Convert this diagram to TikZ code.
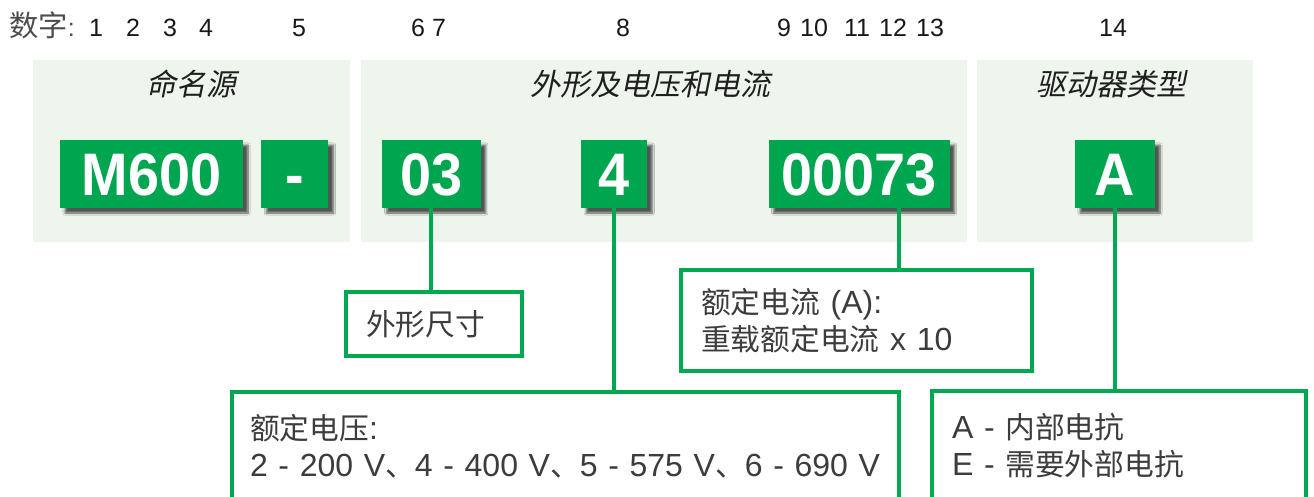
\documentclass[tikz,border=0pt]{standalone}
\usepackage{fontspec}
\setmainfont{Liberation Sans}
\newfontfamily\cjk[Scale=0.93]{Noto Sans CJK SC}
\newfontfamily\cjkit[FakeSlant=0.2]{Noto Sans CJK SC}
\newfontfamily\codefont[FakeStretch=0.93]{Liberation Sans}
\usepackage{tikz}
\usetikzlibrary{positioning,shadows.blur}
\definecolor{codegreen}{HTML}{00A54F}
\definecolor{linegreen}{HTML}{00A84F}
\definecolor{panelbg}{HTML}{EDF5EC}
\definecolor{textgray}{HTML}{3C3C3C}

\begin{document}
\begin{tikzpicture}[x=1pt,y=-1pt,
    panel/.style={fill=panelbg,inner sep=0pt},
    title/.style={font=\cjkit\fontsize{30}{36}\selectfont,text=black!88},
    code/.style={fill=codegreen,text=white,inner sep=0pt,minimum height=68pt,
      text height=43pt,text depth=0pt,
      font=\codefont\bfseries\fontsize{60}{60}\selectfont,
      blur shadow={shadow xshift=5pt,shadow yshift=-5pt,shadow blur steps=6,shadow opacity=65}},
    digit/.style={anchor=base,inner sep=0pt,text=black!90,font=\fontsize{25}{30}\selectfont},
    callout/.style={draw=linegreen,line width=4pt,fill=white,inner xsep=20pt,inner ysep=0pt,
      align=left,text=textgray,font=\fontsize{32}{37}\selectfont},
    link/.style={draw=linegreen,line width=4pt}]
  \useasboundingbox (0,0) rectangle (1314,496);

  % position numbers
  \node[anchor=base west,inner sep=0pt,text=black!70,font=\fontsize{25}{30}\selectfont]
    (numlabel) at (9,36) {{\cjk\fontsize{31.5}{32}\selectfont 数字}:};
  \foreach \n/\x in {1/96,2/133,3/170,4/206,5/299,6/418,7/439,8/623,
                     9/784,10/814,11/857,12/893,13/930,14/1113}
    \node[digit] (d\n) at (\x,36) {\n};

  % panels
  \node[panel,minimum width=317pt,minimum height=182pt] (p_name)  at (191.5,151) {};
  \node[panel,minimum width=606pt,minimum height=182pt] (p_rate)  at (664,151)   {};
  \node[panel,minimum width=276pt,minimum height=182pt] (p_drive) at (1115,151)  {};
  \node[title] (t_name)  at (191.5,84) {命名源};
  \node[title] (t_rate)  at (650,84)   {外形及电压和电流};
  \node[title] (t_drive) at (1111,84)  {驱动器类型};

  % code boxes
  \node[code,minimum width=183pt] (m600) at (151.5,174)         {M600};
  \node[code,minimum width=67pt]  (dash) [right=18pt of m600]   {-};
  \node[code,minimum width=99pt]  (c03)  [right=53pt of dash]   {03};
  \node[code,minimum width=66pt]  (c4)   [right=100pt of c03]   {4};
  \node[code,minimum width=181pt] (c73)  [right=121pt of c4]    {00073};
  \node[code,minimum width=80pt]  (ca)   [right=125pt of c73]   {A};

  % callouts
  \node[callout,minimum height=64pt,text width=136pt]  (size)  at (434,324)    {{\cjk 外形尺寸}};
  \node[callout,minimum height=101pt,text width=311pt] (cur)   at (856.5,320.5)
    {{\cjk 额定电流} (A):\\{\cjk 重载额定电流} x 10};
  \node[callout,minimum height=108pt,inner xsep=18pt,text width=631pt] (volt) at (565.5,446)
    {{\cjk 额定电压}:\\2 - 200 V{\cjk 、}4 - 400 V{\cjk 、}5 - 575 V{\cjk 、}6 - 690 V};
  \node[callout,minimum height=109pt,text width=334pt] (drive) at (1119,445.5)
    {A - {\cjk 内部电抗}\\E - {\cjk 需要外部电抗}};

  \path[link]
    (c03.south) -- (c03.south |- size.north)
    (c4.south)  -- (c4.south |- volt.north)
    ([xshift=40pt]c73.south) -- ([xshift=40pt]c73.south |- cur.north)
    (ca.south)  -- (ca.south |- drive.north);
\end{tikzpicture}
\end{document}
